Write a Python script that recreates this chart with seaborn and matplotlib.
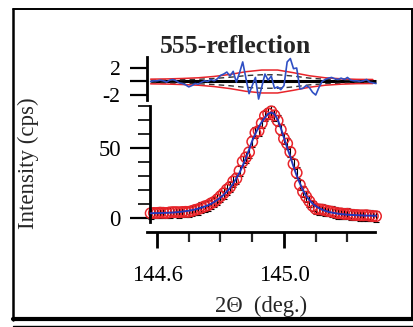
import numpy as np
import pandas as pd
import seaborn as sns
import matplotlib.pyplot as plt
from matplotlib.lines import Line2D
from matplotlib.ticker import FixedLocator, FixedFormatter

# ---- scan data (2-theta in degrees, intensity in cps) ----
two_theta = [
    144.58, 144.59, 144.60, 144.61, 144.62, 144.63, 144.64, 144.65, 144.66, 144.67,
    144.68, 144.69, 144.70, 144.71, 144.72, 144.73, 144.74, 144.75, 144.76, 144.77,
    144.78, 144.79, 144.80, 144.81, 144.82, 144.83, 144.84, 144.85, 144.86, 144.87,
    144.88, 144.89, 144.90, 144.91, 144.92, 144.93, 144.94, 144.95, 144.96, 144.97,
    144.98, 144.99, 145.00, 145.01, 145.02, 145.03, 145.04, 145.05, 145.06, 145.07,
    145.08, 145.09, 145.10, 145.11, 145.12, 145.13, 145.14, 145.15, 145.16, 145.17,
    145.18, 145.19, 145.20, 145.21, 145.22, 145.23, 145.24, 145.25, 145.26, 145.27,
    145.28, 145.29,
]
observed = [
    3.6, 3.8, 3.8, 4.0, 3.9, 3.8, 4.2, 4.4, 4.4, 4.3,
    4.5, 4.6, 4.6, 5.2, 6.0, 6.5, 7.5, 8.5, 9.2, 10.6,
    11.7, 13.5, 15.7, 17.9, 20.5, 22.4, 26.3, 28.4, 33.9, 40.5,
    43.5, 47.2, 54.7, 61.1, 62.4, 68.0, 73.1, 74.8, 76.4, 73.5,
    69.7, 63.3, 56.9, 53.4, 47.4, 38.9, 32.5, 23.9, 19.0, 15.4,
    12.1, 8.9, 6.7, 6.4, 6.2, 5.6, 5.1, 4.7, 4.1, 3.6,
    3.5, 3.1, 3.2, 2.6, 2.4, 2.3, 2.1, 2.1, 2.2, 1.8,
    1.6, 1.5,
]
fit = [
    3.6, 3.7, 3.7, 3.8, 3.8, 3.9, 4.0, 4.1, 4.3, 4.5,
    4.8, 5.1, 5.4, 5.8, 6.3, 6.9, 7.6, 8.4, 9.2, 10.3,
    11.6, 13.1, 14.8, 16.8, 19.1, 21.6, 24.8, 28.5, 32.6, 37.6,
    43.0, 49.0, 55.3, 60.5, 65.0, 68.8, 72.0, 74.6, 75.6, 74.5,
    70.5, 64.5, 57.5, 50.5, 44.0, 37.0, 30.5, 25.0, 20.0, 16.0,
    13.0, 10.5, 8.7, 7.3, 6.2, 5.3, 4.6, 4.1, 3.7, 3.3,
    3.0, 2.8, 2.6, 2.4, 2.3, 2.2, 2.1, 2.0, 1.9, 1.9,
    1.8, 1.8,
]
residual = [
    0.0, 0.1, 0.1, 0.2, 0.1, -0.1, 0.2, 0.3, 0.1, -0.2,
    -0.3, -0.5, -0.8, -0.6, -0.3, -0.4, -0.1, 0.1, 0.0, 0.3,
    0.1, 0.4, 0.9, 1.1, 1.4, 0.8, 1.5, -0.1, 1.3, 2.9,
    0.5, -1.8, -0.6, 0.6, -2.6, -0.8, 1.1, 0.2, 0.8, -1.0,
    -0.8, -1.2, -0.6, 2.9, 3.4, 1.9, 2.0, -1.1, -1.0, -0.6,
    -0.9, -1.6, -2.0, -0.9, 0.0, 0.3, 0.5, 0.6, 0.4, 0.3,
    0.5, 0.3, 0.6, 0.2, 0.1, 0.1, 0.0, 0.1, 0.3, -0.1,
    -0.2, -0.3,
]
count_error = 3.8

# error envelope shown in the residual panel
env_theta = [144.58, 144.63, 144.68, 144.73, 144.78, 144.83, 144.88, 144.93,
             144.98, 145.03, 145.08, 145.13, 145.18, 145.23, 145.28]
envelope = [0.35, 0.38, 0.45, 0.55, 0.75, 1.05, 1.45, 1.7,
            1.7, 1.3, 0.85, 0.55, 0.4, 0.32, 0.3]
half_envelope = [0.2, 0.22, 0.27, 0.33, 0.45, 0.63, 0.87, 1.0,
                 1.0, 0.8, 0.5, 0.33, 0.24, 0.19, 0.18]

major_x = [144.6, 145.0]
major_x_labels = ["144.6", "145.0"]
minor_x = [144.7, 144.8, 144.9, 145.1, 145.2]
major_y = [0, 50]
minor_y = [10, 20, 30, 40, 60, 70, 80]
resid_ticks = [-2, 0, 2]
resid_labels = ["-2", "", "2"]

RED = "#e8242a"
BLUE = "#2336b8"
BLUE_RES = "#2f4fc4"

sns.set_theme(style="white")
plt.rcParams["font.family"] = ["Liberation Serif", "DejaVu Serif"]
plt.rcParams["axes.unicode_minus"] = False

W, H = 414, 327
fig = plt.figure(figsize=(W / 100, H / 100), dpi=100)
fig.patch.set_facecolor("white")


def box(left, top, right, bottom):
    return [left / W, 1 - bottom / H, (right - left) / W, (bottom - top) / H]


df = pd.DataFrame({"two_theta": two_theta, "observed": observed,
                   "fit": fit, "residual": residual})
env = pd.DataFrame({"two_theta": env_theta,
                    "upper": envelope, "lower": np.negative(envelope),
                    "half_up": half_envelope, "half_lo": np.negative(half_envelope)})

# ---- main panel ----
ax = fig.add_axes(box(144.3, 103.5, 382.4, 232.0))
ax.set_facecolor("none")
ax.errorbar(df["two_theta"], df["observed"], yerr=count_error, fmt="none",
            ecolor="black", elinewidth=0.8, capsize=2.2, capthick=0.8, zorder=1)
sns.scatterplot(data=df, x="two_theta", y="observed", ax=ax, marker="o", s=56,
                facecolors="none", edgecolors=RED, linewidths=1.1, zorder=2,
                legend=False)
sns.lineplot(data=df, x="two_theta", y="fit", ax=ax, color=BLUE, lw=1.4,
             zorder=3, legend=False)
ax.set_xlim(144.56, 145.31)
ax.set_ylim(-9.8, 82)
ax.set_xlabel("")
ax.set_ylabel("")
for s in ("top", "right"):
    ax.spines[s].set_visible(False)
for s in ("left", "bottom"):
    ax.spines[s].set_color("black")
    ax.spines[s].set_linewidth(2.0)
ax.spines["left"].set_position(("axes", 0.024))
ax.spines["left"].set_bounds(-2.5, 80)
ax.spines["bottom"].set_bounds(144.568, 145.287)
ax.xaxis.set_major_locator(FixedLocator(major_x))
ax.xaxis.set_major_formatter(FixedFormatter(major_x_labels))
ax.xaxis.set_minor_locator(FixedLocator(minor_x))
ax.yaxis.set_major_locator(FixedLocator(major_y))
ax.yaxis.set_minor_locator(FixedLocator(minor_y))
ax.tick_params(axis="x", which="major", direction="out", length=11.5, width=2.0,
               pad=12, labelsize=16.3, colors="black", bottom=True)
ax.tick_params(axis="x", which="minor", direction="out", length=7, width=1.6,
               bottom=True)
ax.tick_params(axis="y", which="major", direction="out", length=14.4, width=1.6,
               pad=6.5, labelsize=16.3, colors="black", left=True)
ax.tick_params(axis="y", which="minor", direction="out", length=8.6, width=1.4,
               left=True)

# ---- residual panel ----
axr = fig.add_axes(box(144.3, 57.2, 382.4, 101.75))
axr.set_facecolor("none")
axr.hlines(0, two_theta[0], two_theta[-1], color="black", lw=2.2, zorder=1)
for col in ("half_up", "half_lo"):
    sns.lineplot(data=env, x="two_theta", y=col, ax=axr, color="#333333", lw=1.0,
                 linestyle=(0, (4, 3)), zorder=2, legend=False)
for col in ("upper", "lower"):
    sns.lineplot(data=env, x="two_theta", y=col, ax=axr, color=RED, lw=1.1,
                 zorder=3, legend=False)
sns.lineplot(data=df, x="two_theta", y="residual", ax=axr, color=BLUE_RES, lw=1.2,
             zorder=4, legend=False)
axr.set_xlim(144.56, 145.31)
axr.set_ylim(-3, 3.6)
axr.set_xlabel("")
axr.set_ylabel("")
for s in ("top", "right", "bottom"):
    axr.spines[s].set_visible(False)
axr.spines["left"].set_color("black")
axr.spines["left"].set_linewidth(2.0)
axr.spines["left"].set_position(("axes", 0.010))
axr.spines["left"].set_bounds(-2.8, 3.6)
axr.set_xticks([])
axr.yaxis.set_major_locator(FixedLocator(resid_ticks))
axr.yaxis.set_major_formatter(FixedFormatter(resid_labels))
axr.tick_params(axis="y", which="major", direction="out", length=12, width=1.6,
                pad=7, labelsize=15.5, colors="black", left=True)

# ---- text ----
fig.text(236 / W, 1 - 53 / H, "555-reflection", ha="center", va="baseline",
         fontsize=18.5, fontweight="bold")
fig.text(261 / W, 1 - 312 / H, "2\u0398  (deg.)", ha="center", va="baseline",
         fontsize=16.3)
fig.text(28 / W, 1 - 163 / H, "Intensity (cps)", ha="center", va="center",
         rotation=90, fontsize=16.5)

# ---- frame ----
def hline(y, x0, x1, lw):
    fig.add_artist(Line2D([x0 / W, x1 / W], [1 - y / H, 1 - y / H],
                          color="black", lw=lw, transform=fig.transFigure))


def vline(x, y0, y1, lw):
    fig.add_artist(Line2D([x / W, x / W], [1 - y0 / H, 1 - y1 / H],
                          color="black", lw=lw, transform=fig.transFigure))


hline(9, 13, 414, 1.4)
vline(13, 9, 320, 1.8)
vline(412, 9, 320, 1.4)
hline(319, 13, 414, 3.0)
hline(326, 13, 414, 1.0)

fig.savefig("out.png", dpi=100)
